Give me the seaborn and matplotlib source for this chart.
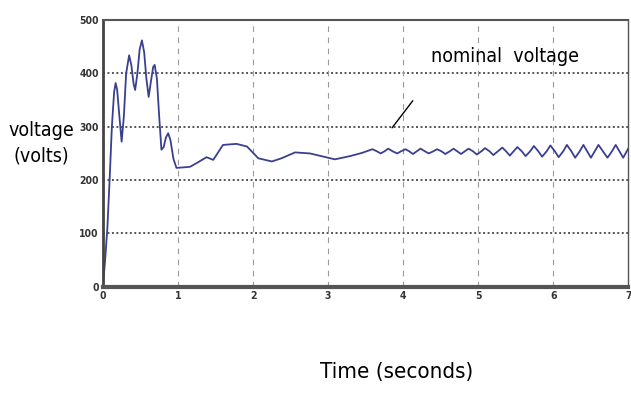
import matplotlib
matplotlib.use("Agg")
import matplotlib.pyplot as plt
import pandas as pd
import seaborn as sns

# transient part
time_transient = [0.00, 0.03, 0.06, 0.09, 0.12, 0.15, 0.17, 0.19, 0.22, 0.25, 0.28,
                  0.31, 0.35, 0.38, 0.41, 0.43, 0.46, 0.49, 0.52, 0.55, 0.58, 0.61,
                  0.64, 0.67, 0.69, 0.72, 0.75, 0.78, 0.81, 0.84, 0.87, 0.90, 0.94,
                  0.98, 1.08, 1.16, 1.25, 1.38, 1.47, 1.60, 1.78, 1.92, 2.07,
                  2.25, 2.38, 2.56, 2.76, 2.94, 3.09, 3.29, 3.45]
volt_transient = [0, 50, 110, 200, 300, 365, 382, 370, 320, 272, 320,
                  400, 434, 415, 380, 369, 400, 445, 462, 440, 390, 356,
                  385, 412, 416, 390, 320, 257, 262, 280, 288, 275, 240,
                  223, 224, 225, 232, 243, 238, 266, 268, 263, 241,
                  235, 241, 252, 250, 244, 239, 245, 251]

# ripple around nominal voltage (peak, mid, trough, mid, ...)
time_ripple = [3.59, 3.65, 3.70, 3.75, 3.80, 3.86, 3.92, 3.97, 4.03, 4.08, 4.13,
               4.18, 4.23, 4.29, 4.34, 4.40, 4.45, 4.51, 4.56, 4.62, 4.67, 4.72,
               4.77, 4.82, 4.87, 4.93, 4.98, 5.04, 5.09, 5.15, 5.20, 5.26, 5.32,
               5.37, 5.42, 5.47, 5.52, 5.58, 5.63, 5.69, 5.74, 5.80, 5.85, 5.91,
               5.96, 6.02, 6.07, 6.13, 6.18, 6.24, 6.29, 6.35, 6.40, 6.45, 6.50,
               6.55, 6.60, 6.66, 6.72, 6.78, 6.83, 6.88, 6.93, 7.00]
volt_ripple = [258, 254, 250, 254, 259, 254, 250, 254, 258, 254, 249,
               254, 259, 254, 250, 254, 258, 254, 249, 254, 259, 254,
               249, 254, 259, 254, 248, 254, 260, 254, 247, 254, 261,
               254, 246, 254, 262, 254, 245, 254, 264, 254, 244, 254,
               265, 254, 243, 254, 266, 254, 242, 254, 266, 254, 242,
               254, 266, 254, 242, 254, 266, 254, 242, 260]

x_ticks = [0, 1, 2, 3, 4, 5, 6, 7]
y_ticks = [0, 100, 200, 300, 400, 500]

df = pd.DataFrame({
    "t": time_transient + time_ripple,
    "v": volt_transient + volt_ripple,
})

sns.set_style("white")
narrow = ["DejaVu Sans", "Liberation Sans"]

fig = plt.figure(figsize=(6.31, 3.94), dpi=100)
ax = fig.add_axes([0.163, 0.272, 0.833, 0.677])

sns.lineplot(data=df, x="t", y="v", ax=ax, color="#3b3f8f", lw=1.3,
             estimator=None, sort=False)

ax.set_xlim(0, 7)
ax.set_ylim(0, 500)
ax.set_xticks(x_ticks)
ax.set_yticks(y_ticks)
ax.set_xticklabels([str(v) for v in x_ticks], family=narrow, fontsize=7.5,
                   fontweight="bold", fontstretch="condensed", color="black")
ax.set_yticklabels([str(v) for v in y_ticks], family=narrow, fontsize=7.5,
                   fontweight="bold", fontstretch="condensed", color="black")
ax.tick_params(direction="in", length=3, width=1, colors="#333333", pad=3)
ax.set_xlabel("")
ax.set_ylabel("")

# gridlines: dotted horizontals, dashed verticals
for y in y_ticks[1:-1]:
    ax.axhline(y, color="#555555", lw=1.4, ls=(0, (1, 1.3)), zorder=0)
for x in x_ticks[1:-1]:
    ax.axvline(x, color="#999999", lw=0.8, ls=(0, (5, 5)), zorder=0)

for side, lw, col in [("left", 2, "#444444"), ("bottom", 3, "#555555"),
                      ("top", 1.5, "#555555"), ("right", 1, "#555555")]:
    ax.spines[side].set_linewidth(lw)
    ax.spines[side].set_color(col)

ax.annotate("", xy=(3.83, 294), xytext=(4.15, 353),
            arrowprops=dict(arrowstyle="-", color="black", lw=1))
ax.text(5.36, 431, "nominal  voltage", family=narrow, fontsize=14,
        fontstretch="condensed", ha="center", va="center", color="black")

fig.text(0.066, 0.637, "voltage\n(volts)", family=narrow, fontsize=14,
         fontstretch="condensed", ha="center", va="center", linespacing=1.45,
         color="black")
fig.text(0.629, 0.055, "Time (seconds)", family=narrow, fontsize=16,
         fontstretch="condensed", ha="center", va="center", color="black")

fig.savefig("out.png", dpi=100, facecolor="white")
